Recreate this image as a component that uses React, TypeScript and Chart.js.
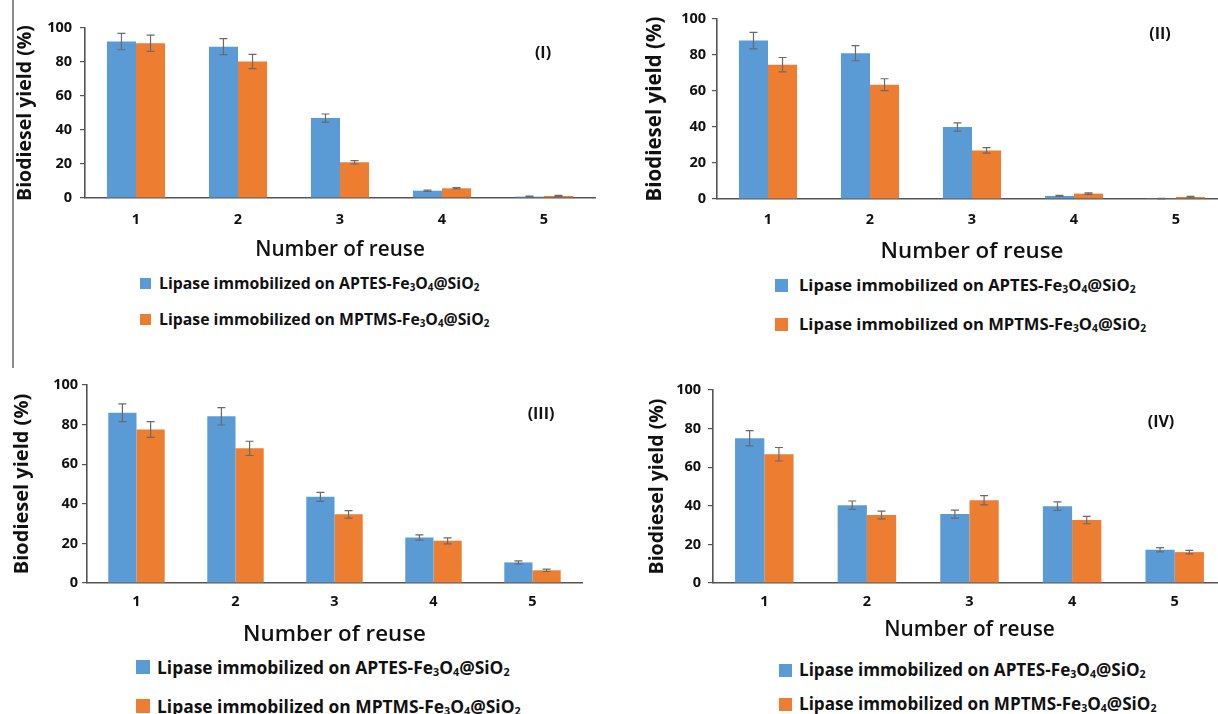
import React, { useEffect, useRef } from "react";
import { Chart, registerables } from "chart.js";

Chart.register(...registerables);
Chart.defaults.font.family = "'Open Sans', Lato, 'DejaVu Sans', sans-serif";
Chart.defaults.color = "#111111";

// ---------- data ----------
const categories = ["1", "2", "3", "4", "5"];
const seriesNames = ["APTES", "MPTMS"];
const seriesColors = ["#5B9BD5", "#ED7D31"];
const yTickMin = 0;
const yTickMax = 100;
const yTickStep = 20;
const panelTags = ["(I)", "(II)", "(III)", "(IV)"];
const xTitle = "Number of reuse";
const yTitle = "Biodiesel yield (%)";

const aptesI = [92, 89, 47, 4.3, 0.8];
const aptesIErr = [4.8, 4.7, 2.4, 0.4, 0.3];
const mptmsI = [91, 80.3, 21, 5.7, 1.2];
const mptmsIErr = [4.8, 4.2, 1.0, 0.4, 0.4];

const aptesII = [88, 81, 40, 1.7, 0.2];
const aptesIIErr = [4.6, 4.2, 2.3, 0.3, 0.2];
const mptmsII = [74.6, 63.5, 27, 3, 1.1];
const mptmsIIErr = [4, 3.3, 1.5, 0.4, 0.4];

const aptesIII = [86, 84.2, 43.5, 23, 10.4];
const aptesIIIErr = [4.5, 4.4, 2.3, 1.3, 0.8];
const mptmsIII = [77.5, 68, 34.7, 21.3, 6.4];
const mptmsIIIErr = [4, 3.6, 1.9, 1.5, 0.6];

const aptesIV = [75, 40.3, 35.7, 39.8, 17.2];
const aptesIVErr = [3.9, 2.2, 2.1, 2.2, 1.1];
const mptmsIV = [66.7, 35.2, 42.9, 32.6, 16];
const mptmsIVErr = [3.5, 2, 2.4, 1.9, 0.9];

const panelValues = [
  [aptesI, mptmsI],
  [aptesII, mptmsII],
  [aptesIII, mptmsIII],
  [aptesIV, mptmsIV],
];
const panelErrors = [
  [aptesIErr, mptmsIErr],
  [aptesIIErr, mptmsIIErr],
  [aptesIIIErr, mptmsIIIErr],
  [aptesIVErr, mptmsIVErr],
];

// ---------- layout (positions / sizes) ----------
type Layout = {
  left: number; top: number; w: number; h: number;
  chartTop: number; padRight: number; yAxisW: number; chartBottom: number;
  yTitleCx: number; yTitleSize: number; xTitleCy: number; xTitleSize: number;
  yTickPad: number; xTickPad: number;
  tagX: number; tagY: number;
  sqX: number; sqSize: number; txtX: number; rows: number[]; legSize: number;
};

const TICK = 14.5;

const layouts: Layout[] = [
  { left: 0, top: 0, w: 600, h: 0, chartTop: 28, padRight: 5, yAxisW: 85, chartBottom: 198,
    yTitleCx: 25, yTitleSize: 19.5, xTitleCy: 251, xTitleSize: 20.7, yTickPad: 8, xTickPad: 13,
    tagX: 543, tagY: 52, sqX: 140, sqSize: 11, txtX: 159, rows: [283, 319], legSize: 15.8 },
  { left: 600, top: 0, w: 628, h: 0, chartTop: 19, padRight: 1, yAxisW: 117, chartBottom: 199,
    yTitleCx: 55, yTitleSize: 20.5, xTitleCy: 252, xTitleSize: 22.3, yTickPad: 6, xTickPad: 12,
    tagX: 1160, tagY: 33, sqX: 775, sqSize: 13, txtX: 799, rows: [285, 324], legSize: 16.6 },
  { left: 0, top: 360, w: 592, h: 0, chartTop: 25, padRight: 10, yAxisW: 87, chartBottom: 223,
    yTitleCx: 22, yTitleSize: 20, xTitleCy: 275, xTitleSize: 22.3, yTickPad: 4, xTickPad: 10,
    tagX: 541, tagY: 413, sqX: 136, sqSize: 14, txtX: 157, rows: [667, 706], legSize: 17.4 },
  { left: 600, top: 360, w: 628, h: 0, chartTop: 30, padRight: 2, yAxisW: 113, chartBottom: 223,
    yTitleCx: 57, yTitleSize: 19.5, xTitleCy: 271, xTitleSize: 20.8, yTickPad: 7, xTickPad: 10,
    tagX: 1161, tagY: 421, sqX: 779, sqSize: 13, txtX: 799, rows: [670, 704], legSize: 17.1 },
];
layouts.forEach((L) => {
  L.h = Math.round(L.xTitleCy + (L.xTitleSize * 1.2) / 2);
});

const errorBarPlugin = {
  id: "errorBars",
  afterDatasetsDraw(chart: any) {
    const ctx = chart.ctx;
    const yScale = chart.scales.y;
    chart.data.datasets.forEach((ds: any, i: number) => {
      const meta = chart.getDatasetMeta(i);
      meta.data.forEach((bar: any, j: number) => {
        const v = ds.data[j];
        const e = ds.errors[j];
        const yTop = yScale.getPixelForValue(v + e);
        const yBot = yScale.getPixelForValue(Math.max(0, v - e));
        const x = bar.x;
        ctx.save();
        ctx.strokeStyle = "#6a6a6a";
        ctx.lineWidth = 1.2;
        ctx.beginPath();
        ctx.moveTo(x, yTop);
        ctx.lineTo(x, yBot);
        ctx.moveTo(x - 4, yTop);
        ctx.lineTo(x + 4, yTop);
        ctx.moveTo(x - 4, yBot);
        ctx.lineTo(x + 4, yBot);
        ctx.stroke();
        ctx.restore();
      });
    });
  },
};

function Panel({ idx }: { idx: number }) {
  const ref = useRef<HTMLCanvasElement>(null);
  const L = layouts[idx];
  useEffect(() => {
    const chart = new Chart(ref.current as HTMLCanvasElement, {
      type: "bar",
      data: {
        labels: categories,
        datasets: seriesNames.map((name, s) => ({
          label: name,
          data: panelValues[idx][s],
          errors: panelErrors[idx][s],
          backgroundColor: seriesColors[s],
          borderWidth: 0,
          barPercentage: 1,
          categoryPercentage: 0.57,
        })) as any,
      },
      options: {
        animation: false,
        responsive: false,
        maintainAspectRatio: false,
        devicePixelRatio: 1,
        layout: { padding: { top: L.chartTop, right: L.padRight, left: 0, bottom: 0 } },
        plugins: { legend: { display: false }, tooltip: { enabled: false } },
        scales: {
          x: {
            grid: { display: false, drawTicks: false },
            border: { display: true, color: "#555555", width: 1.6 },
            ticks: { color: "#111", font: { size: TICK, weight: "bold" }, padding: L.xTickPad },
            title: {
              display: true, text: xTitle, color: "#111",
              font: { size: L.xTitleSize, weight: "600" }, padding: 0,
            },
            afterFit: (s: any) => { s.height = L.h - L.chartBottom; },
          },
          y: {
            min: yTickMin,
            max: yTickMax,
            ticks: { stepSize: yTickStep, color: "#111", font: { size: TICK, weight: "bold" }, padding: L.yTickPad },
            grid: { display: true, drawOnChartArea: false, drawTicks: true, tickLength: 5, color: "#555555", lineWidth: 1.2 },
            border: { display: true, color: "#555555", width: 1.6 },
            title: {
              display: true, text: yTitle, color: "#111",
              font: { size: L.yTitleSize, weight: "bold" },
              padding: { top: L.yTitleCx - (L.yTitleSize * 1.2) / 2, bottom: 0 },
            },
            afterFit: (s: any) => { s.width = L.yAxisW; },
          },
        },
      } as any,
      plugins: [errorBarPlugin],
    });
    return () => chart.destroy();
  }, []);

  const sub = (t: string) => (
    <span style={{ fontSize: "0.62em", position: "relative", top: "0.2em" }}>{t}</span>
  );

  return (
    <>
      <canvas
        ref={ref}
        width={L.w}
        height={L.h}
        style={{ position: "absolute", left: L.left, top: L.top, width: L.w, height: L.h }}
      />
      <div
        style={{
          position: "absolute", left: L.tagX - 30, top: L.tagY - 11, width: 60, height: 22,
          lineHeight: "22px", textAlign: "center", fontWeight: 700, fontSize: 16, color: "#111",
        }}
      >
        {panelTags[idx]}
      </div>
      {seriesNames.map((name, s) => (
        <React.Fragment key={name}>
          <div
            style={{
              position: "absolute", left: L.sqX, top: L.rows[s] - L.sqSize / 2,
              width: L.sqSize, height: L.sqSize, background: seriesColors[s],
            }}
          />
          <div
            style={{
              position: "absolute", left: L.txtX, top: L.rows[s] - 12, height: 24, lineHeight: "24px",
              whiteSpace: "nowrap", fontWeight: 700, fontSize: L.legSize, color: "#111",
            }}
          >
            Lipase immobilized on {name}-Fe{sub("3")}O{sub("4")}@SiO{sub("2")}
          </div>
        </React.Fragment>
      ))}
    </>
  );
}

export default function App() {
  return (
    <div
      style={{
        position: "absolute", left: 0, top: 0, width: 1218, height: 714, overflow: "hidden",
        background: "#ffffff", fontFamily: "'Open Sans', Lato, sans-serif",
      }}
    >
      <div style={{ position: "absolute", left: 12, top: 0, width: 2, height: 368, background: "#8a8a8a" }} />
      {layouts.map((_, i) => (
        <Panel key={i} idx={i} />
      ))}
    </div>
  );
}
